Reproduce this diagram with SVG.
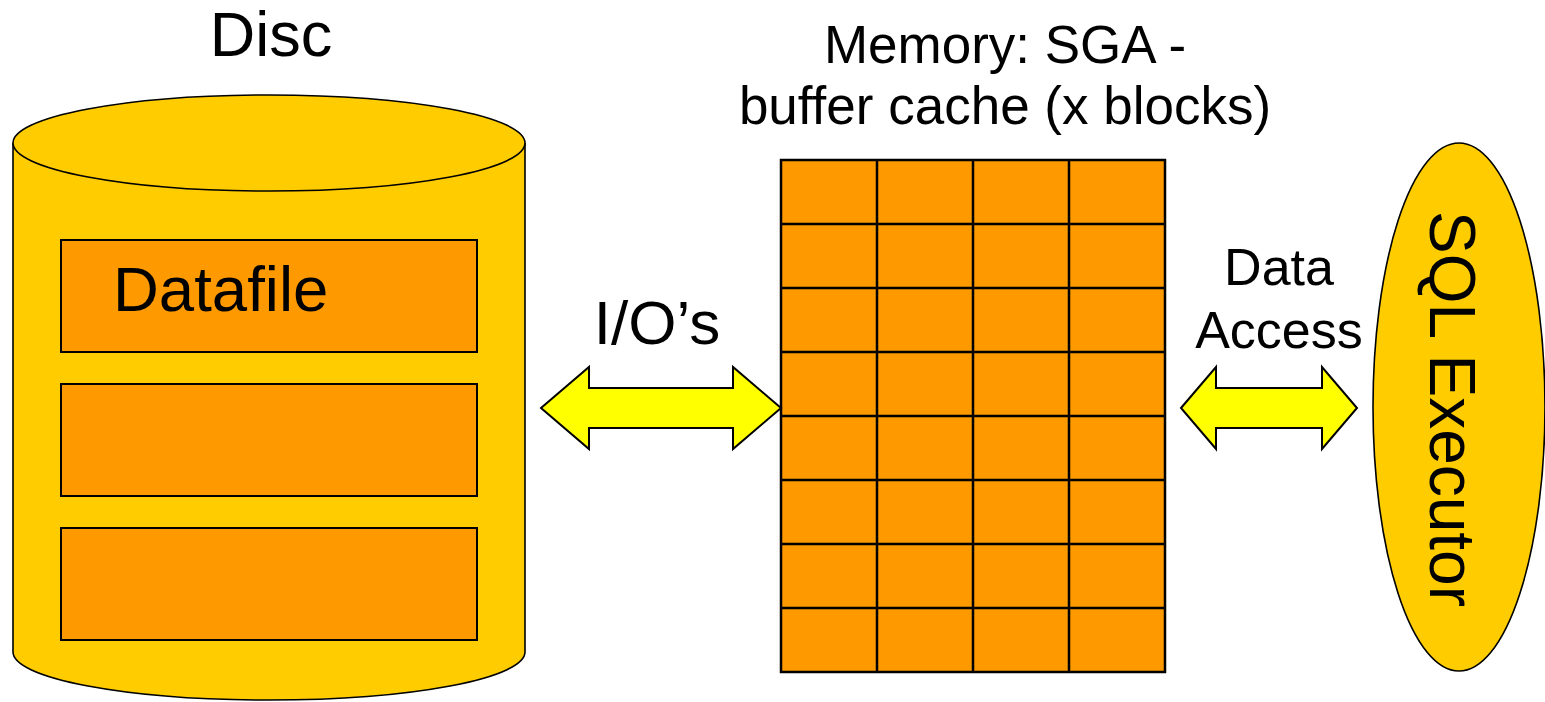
<svg xmlns="http://www.w3.org/2000/svg" width="1545" height="702" viewBox="0 0 1545 702">
<style>
text{font-family:"Liberation Sans",Arial,sans-serif;fill:#000}
.cyl{fill:#FFCC00;stroke:#000;stroke-width:1.6}
.blk{fill:#FF9900;stroke:#000;stroke-width:2}
.grid{fill:none;stroke:#000;stroke-width:2.5}
.arr{fill:#FFFF00;stroke:#000;stroke-width:2}
</style>
<rect width="1545" height="702" fill="#fff"/>
<g id="disc">
<path class="cyl" d="M13,143 L13,652 A256,48 0 0 0 525,652 L525,143"/>
<ellipse class="cyl" cx="269" cy="143" rx="256" ry="48"/>
<text x="271" y="56" font-size="63" text-anchor="middle">Disc</text>
</g>
<g id="datafile1"><rect class="blk" x="61" y="240" width="416" height="112"/>
<text x="113" y="311" font-size="63.5">Datafile</text></g>
<g id="datafile2"><rect class="blk" x="61" y="384" width="416" height="112"/></g>
<g id="datafile3"><rect class="blk" x="61" y="528" width="416" height="112"/></g>
<g id="buffer-cache">
<rect x="781" y="160" width="384" height="512" fill="#FF9900"/>
<path class="grid" d="M781,160H1165V672H781Z M877,160V672 M973,160V672 M1069,160V672 M781,224H1165 M781,288H1165 M781,352H1165 M781,416H1165 M781,480H1165 M781,544H1165 M781,608H1165"/>
<text x="1005" y="63" font-size="53" text-anchor="middle">Memory: SGA -</text>
<text x="1005" y="124" font-size="53" text-anchor="middle">buffer cache (x blocks)</text>
</g>
<g id="sql-executor">
<ellipse cx="1459" cy="407" rx="86" ry="264" fill="#FFCC00" stroke="#000" stroke-width="1.6"/>
<text transform="translate(1430,409) rotate(90)" font-size="64" text-anchor="middle">SQL Executor</text>
</g>
<g id="connectors">
<polygon class="arr" points="541,408 589,367 589,388 733,388 733,367 781,408 733,449 733,428 589,428 589,449"/>
<text x="657" y="344" font-size="62" text-anchor="middle">I/O’s</text>
<polygon class="arr" points="1181,408 1216,367 1216,388 1322,388 1322,367 1357,408 1322,449 1322,428 1216,428 1216,449"/>
<text x="1279" y="285" font-size="52" text-anchor="middle">Data</text>
<text x="1279" y="348" font-size="52" text-anchor="middle">Access</text>
</g>
</svg>
